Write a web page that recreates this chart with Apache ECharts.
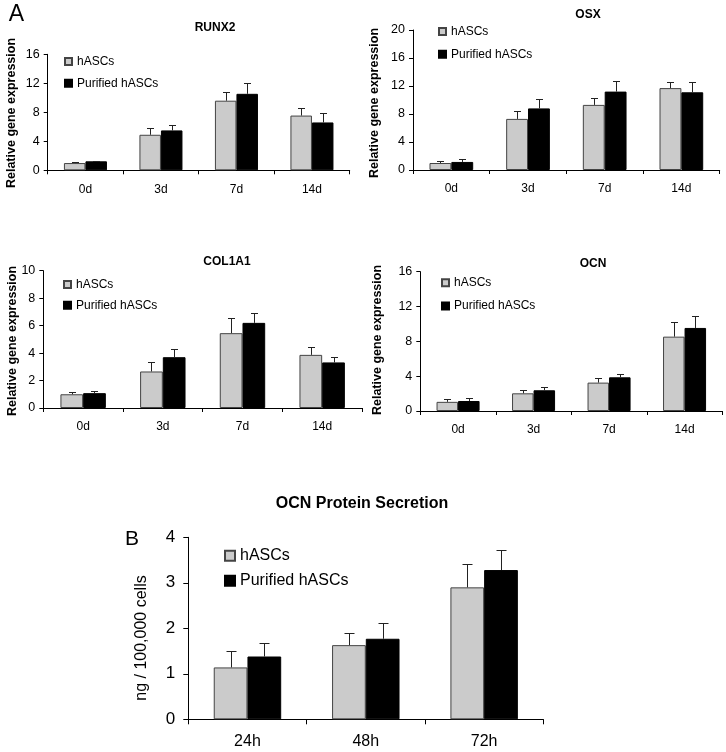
<!DOCTYPE html>
<html>
<head>
<meta charset="utf-8">
<script src="https://cdn.jsdelivr.net/npm/echarts@6/dist/echarts.min.js"></script>
<style>
html,body{margin:0;padding:0;background:#fff;}
#chart{width:726px;height:752px;}
</style>
</head>
<body>
<div id="chart"></div>
<script>
// ---------- DATA ----------
const days = ['0d', '3d', '7d', '14d'];
const hours = ['24h', '48h', '72h'];
const seriesNames = ['hASCs', 'Purified hASCs'];

const runx2_hASCs = [1.0, 4.9, 9.6, 7.55];
const runx2_hASCs_err = [0.14, 1.0, 1.2, 1.05];
const runx2_purified = [1.24, 5.5, 10.55, 6.6];
const runx2_purified_err = [0.1, 0.75, 1.55, 1.3];

const osx_hASCs = [1.0, 7.3, 9.3, 11.7];
const osx_hASCs_err = [0.3, 1.2, 0.95, 0.9];
const osx_purified = [1.15, 8.8, 11.2, 11.1];
const osx_purified_err = [0.45, 1.3, 1.45, 1.5];

const col1a1_hASCs = [1.0, 2.66, 5.45, 3.87];
const col1a1_hASCs_err = [0.13, 0.68, 1.14, 0.56];
const col1a1_purified = [1.08, 3.7, 6.2, 3.32];
const col1a1_purified_err = [0.13, 0.61, 0.75, 0.43];

const ocn_hASCs = [1.05, 2.03, 3.26, 8.54];
const ocn_hASCs_err = [0.33, 0.35, 0.49, 1.65];
const ocn_purified = [1.15, 2.38, 3.87, 9.54];
const ocn_purified_err = [0.31, 0.38, 0.38, 1.38];

const protein_hASCs = [1.14, 1.63, 2.9];
const protein_hASCs_err = [0.37, 0.27, 0.51];
const protein_purified = [1.38, 1.77, 3.28];
const protein_purified_err = [0.29, 0.35, 0.43];

const panelTitles = ['RUNX2', 'OSX', 'COL1A1', 'OCN'];
const titleB = 'OCN Protein Secretion';
const yNameA = 'Relative gene expression';
const yNameB = 'ng / 100,000 cells';

// ---------- STYLE / LAYOUT ----------
const FONT = '"Liberation Sans", Arial, sans-serif';
const GRAY = '#cbcbcb';
const BLACK = '#000000';
const GAP = 0.43;

const panels = [
  {cats: days, v: [runx2_hASCs, runx2_purified], e: [runx2_hASCs_err, runx2_purified_err], max: 16, step: 4,
   grid: {left: 47.7, top: 54.3, width: 302, height: 116}, legend: {left: 64, top: 54.5, gap: 7.7},
   title: [215, 28], yname: [12, 113], small: true},
  {cats: days, v: [osx_hASCs, osx_purified], e: [osx_hASCs_err, osx_purified_err], max: 20, step: 4,
   grid: {left: 413, top: 30, width: 306.7, height: 140}, legend: {left: 438, top: 24.5, gap: 8.7},
   title: [588, 15], yname: [375, 103], small: true},
  {cats: days, v: [col1a1_hASCs, col1a1_purified], e: [col1a1_hASCs_err, col1a1_purified_err], max: 10, step: 2,
   grid: {left: 43.3, top: 270.7, width: 318.7, height: 137.3}, legend: {left: 63, top: 277.5, gap: 6.7},
   title: [227, 262], yname: [13, 341], small: true},
  {cats: days, v: [ocn_hASCs, ocn_purified], e: [ocn_hASCs_err, ocn_purified_err], max: 16, step: 4,
   grid: {left: 420.3, top: 271.7, width: 302, height: 139.3}, legend: {left: 441, top: 275.7, gap: 9.3},
   title: [593, 264], yname: [378, 340], small: true},
  {cats: hours, v: [protein_hASCs, protein_purified], e: [protein_hASCs_err, protein_purified_err], max: 4, step: 1,
   grid: {left: 188.3, top: 537.3, width: 355, height: 182}, legend: {left: 224, top: 546.7, gap: 7},
   title: [362, 504], yname: [142, 638], small: false}
];

const option = {
  animation: false,
  backgroundColor: '#fff',
  textStyle: {fontFamily: FONT},
  grid: [], xAxis: [], yAxis: [], series: [], legend: [], graphic: []
};

panels.forEach((p, k) => {
  const fs = p.small ? 12 : 16;
  option.grid.push(Object.assign({containLabel: false}, p.grid));
  option.xAxis.push({
    type: 'category', gridIndex: k, data: p.cats,
    axisLine: {lineStyle: {color: '#000', width: 1}},
    axisTick: {show: true, length: p.small ? 4 : 5, lineStyle: {color: '#000'}},
    axisLabel: {color: '#000', fontSize: fs, fontFamily: FONT, margin: p.small ? 13 : 14},
    splitLine: {show: false}
  });
  option.yAxis.push({
    type: 'value', gridIndex: k, min: 0, max: p.max, interval: p.step,
    axisLine: {show: true, lineStyle: {color: '#000', width: 1}},
    axisTick: {show: true, length: p.small ? 4 : 5, lineStyle: {color: '#000'}},
    axisLabel: {color: '#000', fontSize: p.small ? 12.5 : 17, fontFamily: FONT, margin: p.small ? 8 : 13},
    splitLine: {show: false}
  });
  [0, 1].forEach(s => {
    option.series.push({
      name: seriesNames[s], type: 'bar', xAxisIndex: k, yAxisIndex: k,
      data: p.v[s], barGap: '0%', barCategoryGap: (GAP * 100) + '%',
      itemStyle: s === 0 ? {color: GRAY, borderColor: '#444', borderWidth: 1}
                         : {color: BLACK, borderColor: '#000', borderWidth: 1},
      silent: true
    });
  });
  [0, 1].forEach(s => {
    const sign = s === 0 ? -1 : 1;
    const cap = p.small ? 3.5 : 5;
    option.series.push({
      type: 'custom', xAxisIndex: k, yAxisIndex: k, silent: true, z: 5,
      data: p.v[s].map((val, i) => [i, val, val + p.e[s][i]]),
      encode: {x: 0, y: [1, 2]},
      renderItem: function (params, api) {
        const i = api.value(0);
        const base = api.coord([i, api.value(1)]);
        const top = api.coord([i, api.value(2)]);
        const band = api.size([1, 0])[0];
        const bw = band * (1 - GAP) / 2;
        const x = Math.round(base[0] + sign * bw / 2) + 0.5;
        const yt = Math.round(top[1]) + 0.5;
        const st = {stroke: '#222', lineWidth: 1};
        return {type: 'group', children: [
          {type: 'line', shape: {x1: x, y1: base[1], x2: x, y2: yt}, style: st},
          {type: 'line', shape: {x1: x - cap, y1: yt, x2: x + cap, y2: yt}, style: st}
        ]};
      }
    });
  });
  option.legend.push({
    data: seriesNames, orient: 'vertical', left: p.legend.left, top: p.legend.top,
    padding: 0, itemGap: p.legend.gap, selectedMode: false,
    itemWidth: p.small ? 7 : 10, itemHeight: p.small ? 7 : 10, icon: 'rect',
    textStyle: {fontSize: fs, fontFamily: FONT, color: '#000', lineHeight: p.small ? 14 : 18}
  });
  // panel title
  option.graphic.push({
    type: 'text', x: p.title[0], y: p.title[1], silent: true,
    style: {text: k < 4 ? panelTitles[k] : titleB, fontFamily: FONT, fontWeight: 'bold',
            fontSize: p.small ? 12 : 16, fill: '#000', align: 'center', verticalAlign: 'middle'}
  });
  // y-axis name
  option.graphic.push({
    type: 'text', x: p.yname[0], y: p.yname[1], rotation: Math.PI / 2, silent: true,
    style: {text: p.small ? yNameA : yNameB, fontFamily: FONT, fontWeight: p.small ? 'bold' : 'normal',
            fontSize: p.small ? 12.5 : 16, fill: '#000', align: 'center', verticalAlign: 'middle'}
  });
});

// panel letters
option.graphic.push({type: 'text', x: 16.5, y: 15, silent: true,
  style: {text: 'A', fontFamily: FONT, fontSize: 23, fill: '#000', align: 'center', verticalAlign: 'middle'}});
option.graphic.push({type: 'text', x: 132, y: 539.5, silent: true,
  style: {text: 'B', fontFamily: FONT, fontSize: 21, fill: '#000', align: 'center', verticalAlign: 'middle'}});

const chart = echarts.init(document.getElementById('chart'), null, {renderer: 'canvas'});
chart.setOption(option);
</script>
</body>
</html>
